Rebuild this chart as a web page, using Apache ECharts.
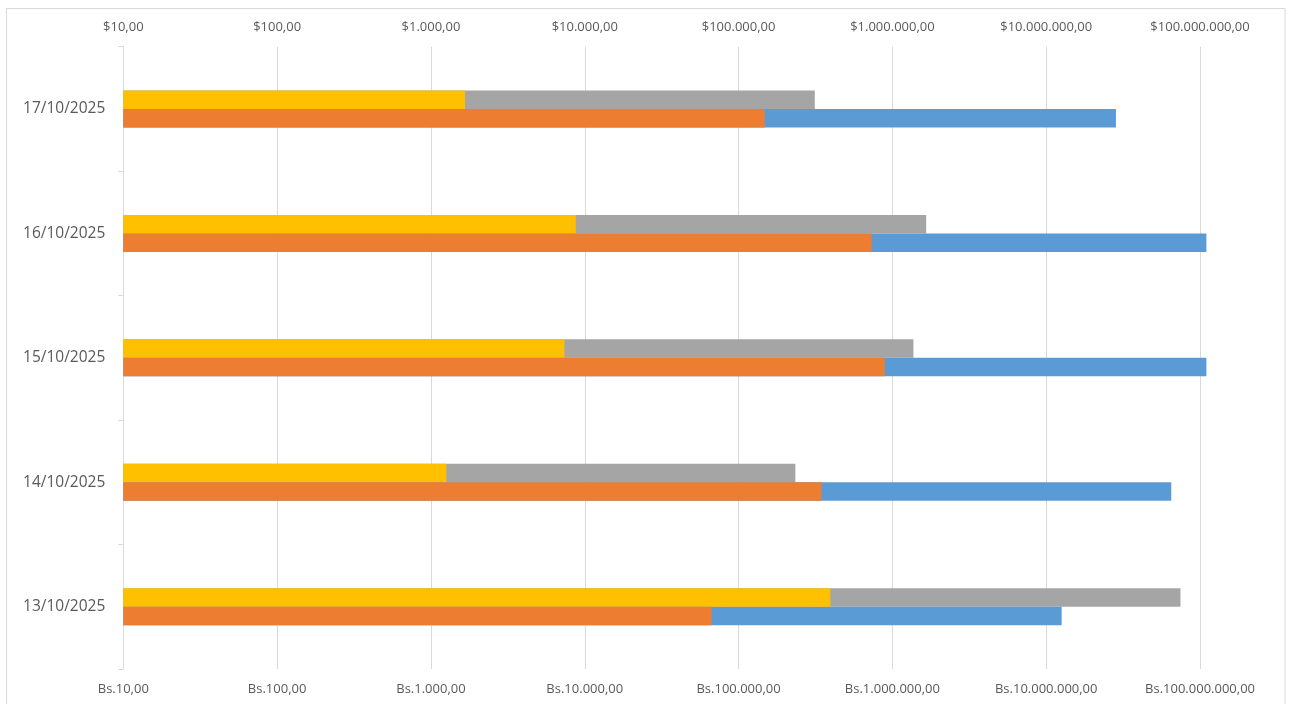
<!DOCTYPE html>
<html>
<head>
<meta charset="utf-8">
<script src="https://cdn.jsdelivr.net/npm/echarts@6/dist/echarts.min.js"></script>
<style>
  html, body { margin: 0; padding: 0; background: #fff; }
  #chart { width: 1290px; height: 704px; }
</style>
</head>
<body>
<div id="chart"></div>
<script>
// Categories (bottom to top)
const categories = ['13/10/2025', '14/10/2025', '15/10/2025', '16/10/2025', '17/10/2025'];

// Upper row, top axis ($)
const grayValues   = [74600000, 234000, 1370000, 1658000, 313000];
const yellowValues = [395000, 1259, 7376, 8735, 1667];

// Lower row, bottom axis (Bs.)
const blueValues   = [12600000, 65000000, 110000000, 110000000, 28400000];
const orangeValues = [66800, 346000, 892000, 734000, 148000];

// Tick labels per power of ten (10^1 .. 10^8)
const topTickLabels = ['$10,00', '$100,00', '$1.000,00', '$10.000,00', '$100.000,00',
  '$1.000.000,00', '$10.000.000,00', '$100.000.000,00'];
const bottomTickLabels = ['Bs.10,00', 'Bs.100,00', 'Bs.1.000,00', 'Bs.10.000,00', 'Bs.100.000,00',
  'Bs.1.000.000,00', 'Bs.10.000.000,00', 'Bs.100.000.000,00'];

const FONT = '"Open Sans", "Noto Sans", sans-serif';
const TXT = '#595959';
const GRID_C = '#d9d9d9';

function labelFor(list) {
  return function (v) {
    const e = Math.log10(v);
    const r = Math.round(e);
    if (Math.abs(e - r) > 1e-6) return '';
    return list[r - 1] || '';
  };
}

const chart = echarts.init(document.getElementById('chart'));
const xMin = 10, xMax = 110000000;
chart.setOption({
  backgroundColor: '#ffffff',
  animation: false,
  graphic: [{
    type: 'rect',
    shape: { x: 6.5, y: 8.5, width: 1278.5, height: 720 },
    style: { fill: 'none', stroke: GRID_C, lineWidth: 1 },
    silent: true, z: -10
  }],
  grid: { left: 123.3, right: 83.6, top: 46.7, bottom: 35, containLabel: false },
  xAxis: [
    {
      type: 'log', logBase: 10, position: 'top', min: xMin, max: xMax,
      axisLine: { show: false }, axisTick: { show: false },
      splitLine: { show: true, showMaxLine: false, lineStyle: { color: GRID_C, width: 1 } },
      axisLabel: { color: TXT, fontFamily: FONT, fontSize: 13, margin: 13,
        showMaxLabel: false, formatter: labelFor(topTickLabels) }
    },
    {
      type: 'log', logBase: 10, position: 'bottom', min: xMin, max: xMax,
      axisLine: { show: false }, axisTick: { show: false },
      splitLine: { show: false },
      axisLabel: { color: TXT, fontFamily: FONT, fontSize: 13, margin: 14,
        showMaxLabel: false, formatter: labelFor(bottomTickLabels) }
    }
  ],
  yAxis: [
    {
      type: 'category', data: categories,
      axisLine: { show: true, lineStyle: { color: GRID_C } },
      axisTick: { show: true, length: 5, lineStyle: { color: GRID_C } },
      splitLine: { show: false },
      axisLabel: { color: TXT, fontFamily: FONT, fontSize: 15.5, margin: 18 }
    },
    {
      type: 'category', data: categories, show: false
    }
  ],
  series: [
    { name: 'gray', type: 'bar', xAxisIndex: 0, yAxisIndex: 0, data: grayValues,
      barWidth: 18.5, barGap: '0%', itemStyle: { color: '#A5A5A5' }, clip: true },
    { name: 'blue', type: 'bar', xAxisIndex: 1, yAxisIndex: 0, data: blueValues,
      barWidth: 18.5, barGap: '0%', itemStyle: { color: '#5B9BD5' }, clip: true },
    { name: 'yellow', type: 'bar', xAxisIndex: 0, yAxisIndex: 1, data: yellowValues,
      barWidth: 18.5, barGap: '0%', itemStyle: { color: '#FFC000' }, clip: true },
    { name: 'orange', type: 'bar', xAxisIndex: 1, yAxisIndex: 1, data: orangeValues,
      barWidth: 18.5, barGap: '0%', itemStyle: { color: '#ED7D31' }, clip: true }
  ]
});
</script>
</body>
</html>
